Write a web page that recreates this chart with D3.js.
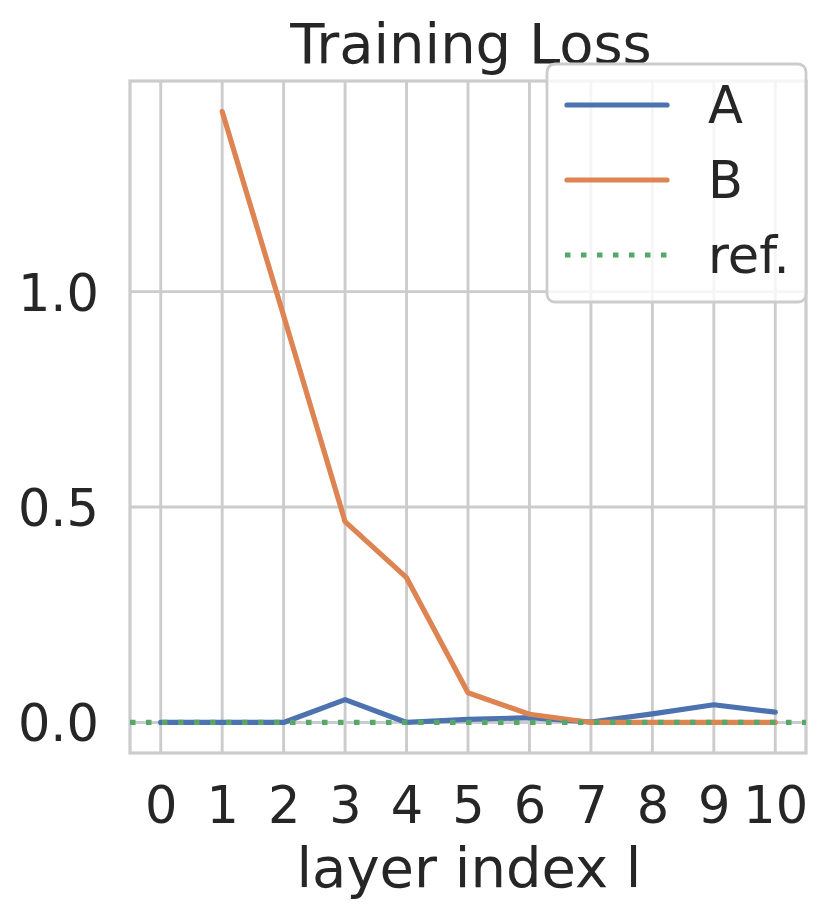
<!DOCTYPE html>
<html>
<head>
<meta charset="utf-8">
<script src="https://cdn.jsdelivr.net/npm/d3@7"></script>
<style>
  body { margin: 0; background: #fff; }
  text { font-family: "DejaVu Sans", sans-serif; fill: #262626; }
</style>
</head>
<body>
<div id="container"></div>
<script>
// Data
const layers = [0, 1, 2, 3, 4, 5, 6, 7, 8, 9, 10];
const lossA = [0, 0, 0, 0.053, 0, 0.007, 0.011, 0.001, 0.02, 0.041, 0.024];
const lossB = [null, 1.418, 0.944, 0.466, 0.336, 0.069, 0.019, 0, 0, 0, 0];
const refValue = 0;
const yTicks = [0, 0.5, 1.0];
const seriesNames = ["A", "B", "ref."];

// Dimensions
const W = 830, H = 919;
const margin = {top: 81, right: 24, bottom: 166, left: 130},
      width = W - margin.left - margin.right,
      height = H - margin.top - margin.bottom;

const svg = d3.select("#container")
              .append("svg")
              .attr("width", W)
              .attr("height", H);

const g = svg.append("g")
             .attr("transform", `translate(${margin.left},${margin.top})`);

// Scales
const x = d3.scaleLinear().domain([-0.5, 10.5]).range([0, width]);
const yMax = d3.max(lossB);
const pad = yMax * 0.05;
const y = d3.scaleLinear().domain([-pad, yMax + pad]).range([height, 0]);

const gridColor = "#cccccc";

// Grid lines
g.append("g")
 .selectAll("line")
 .data(layers)
 .join("line")
 .attr("x1", d => x(d)).attr("x2", d => x(d))
 .attr("y1", 0).attr("y2", height)
 .attr("stroke", gridColor).attr("stroke-width", 2.9);

g.append("g")
 .selectAll("line")
 .data(yTicks)
 .join("line")
 .attr("x1", 0).attr("x2", width)
 .attr("y1", d => y(d)).attr("y2", d => y(d))
 .attr("stroke", gridColor).attr("stroke-width", 2.9);

// Frame
g.append("rect")
 .attr("width", width).attr("height", height)
 .attr("fill", "none")
 .attr("stroke", gridColor).attr("stroke-width", 3.2);

// Axes (labels only, seaborn style)
const xAxis = g.append("g")
  .attr("transform", `translate(0,${height})`)
  .call(d3.axisBottom(x).tickValues(layers).tickSize(0).tickPadding(0).tickFormat(d3.format("d")));
xAxis.select(".domain").remove();
xAxis.selectAll("text")
     .attr("y", 70)
     .attr("dy", null)
     .style("font-size", "51px");

const yAxis = g.append("g")
  .call(d3.axisLeft(y).tickValues(yTicks).tickSize(0).tickPadding(0).tickFormat(d3.format(".1f")));
yAxis.select(".domain").remove();
yAxis.selectAll("text")
     .attr("x", -31)
     .attr("dy", "0.36em")
     .style("font-size", "51px");

// Lines
const line = d3.line()
               .defined(d => d[1] !== null)
               .x(d => x(d[0]))
               .y(d => y(d[1]));

const colors = {A: "#4c72b0", B: "#dd8452", ref: "#55a868"};
const lw = 5.2;

g.append("path")
 .datum(layers.map((l, i) => [l, lossA[i]]))
 .attr("d", line)
 .attr("fill", "none")
 .attr("stroke", colors.A)
 .attr("stroke-width", lw)
 .attr("stroke-linecap", "round")
 .attr("stroke-linejoin", "round");

g.append("path")
 .datum(layers.map((l, i) => [l, lossB[i]]))
 .attr("d", line)
 .attr("fill", "none")
 .attr("stroke", colors.B)
 .attr("stroke-width", lw)
 .attr("stroke-linecap", "round")
 .attr("stroke-linejoin", "round");

// Reference line across the full axes
g.append("line")
 .attr("x1", 0).attr("x2", width)
 .attr("y1", y(refValue)).attr("y2", y(refValue))
 .attr("stroke", colors.ref)
 .attr("stroke-width", lw)
 .attr("stroke-dasharray", "5.5,10.5");

// Title
svg.append("text")
   .attr("x", margin.left + width / 2 + 3)
   .attr("y", 63)
   .attr("text-anchor", "middle")
   .style("font-size", "56px")
   .text("Training Loss");

// X axis label
svg.append("text")
   .attr("x", margin.left + width / 2 + 1)
   .attr("y", 887)
   .attr("text-anchor", "middle")
   .style("font-size", "56px")
   .text("layer index l");

// Legend
const legend = svg.append("g").attr("transform", "translate(547,64)");
legend.append("rect")
      .attr("width", 259).attr("height", 238)
      .attr("rx", 8).attr("ry", 8)
      .attr("fill", "#ffffff").attr("fill-opacity", 0.8)
      .attr("stroke", gridColor).attr("stroke-width", 2.8);

const legendItems = [
  {name: seriesNames[0], color: colors.A, dash: null},
  {name: seriesNames[1], color: colors.B, dash: null},
  {name: seriesNames[2], color: colors.ref, dash: "5.5,10.5"}
];

const rows = legend.selectAll("g.item")
  .data(legendItems)
  .join("g")
  .attr("class", "item")
  .attr("transform", (d, i) => `translate(0,${41 + i * 75})`);

rows.append("line")
    .attr("x1", d => d.dash ? 18 : 20).attr("x2", 120)
    .attr("stroke", d => d.color)
    .attr("stroke-width", lw)
    .attr("stroke-linecap", d => d.dash ? "butt" : "round")
    .attr("stroke-dasharray", d => d.dash);

rows.append("text")
    .attr("x", 161)
    .attr("y", 18)
    .style("font-size", "51px")
    .text(d => d.name);
</script>
</body>
</html>
